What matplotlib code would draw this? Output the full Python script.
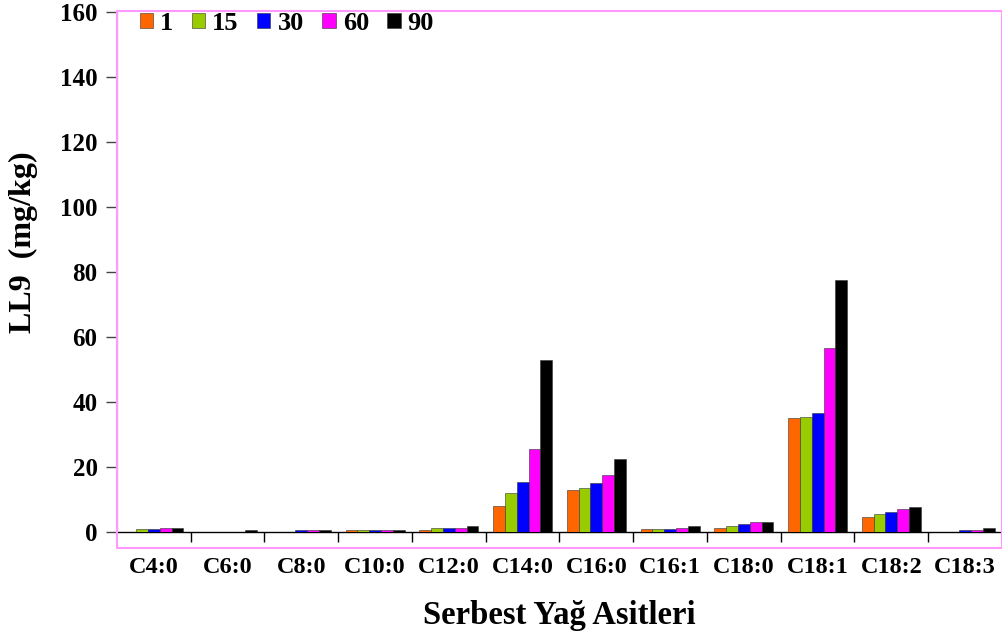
import matplotlib.pyplot as plt
import numpy as np
from matplotlib.patches import Rectangle

plt.rcParams['font.family'] = ['Liberation Serif', 'DejaVu Serif']
plt.rcParams['font.weight'] = 'bold'

#Fatty acid categories
categories = ['C4:0', 'C6:0', 'C8:0', 'C10:0', 'C12:0', 'C14:0',
              'C16:0', 'C16:1', 'C18:0', 'C18:1', 'C18:2', 'C18:3']

#Storage days (series) and values in mg/kg
series_names = ['1', '15', '30', '60', '90']
day1 = [0, 0, 0, 0.7, 0.7, 8, 13, 0.8, 1.3, 35, 4.6, 0]
day15 = [0.8, 0, 0, 0.7, 1.1, 12, 13.5, 0.8, 1.9, 35.5, 5.6, 0]
day30 = [0.8, 0, 0.7, 0.7, 1.1, 15.5, 15, 0.8, 2.5, 36.5, 6.1, 0.7]
day60 = [1.3, 0, 0.7, 0.7, 1.1, 25.5, 17.5, 1.3, 3.1, 56.5, 7.2, 0.7]
day90 = [1.3, 0.7, 0.7, 0.7, 1.8, 53, 22.5, 1.9, 3.1, 77.5, 7.8, 1.3]
colors = ['#FF6600', '#99CC00', '#0000FF', '#FF00FF', '#000000']

yticks = [0, 20, 40, 60, 80, 100, 120, 140, 160]

W, H = 1003, 639
fig = plt.figure(figsize=(W / 100, H / 100), dpi=100)
ax = fig.add_axes([117 / W, (H - 532) / H, (1002 - 117) / W, 520 / H])

#Pink plot area border
fig.patches.append(Rectangle((117 / W, (H - 548) / H), (1002 - 117) / W, 537 / H,
                             transform=fig.transFigure, fill=False,
                             edgecolor='#FF99FF', linewidth=1.5, zorder=0))

x = np.arange(len(categories))
bw = 0.16
all_series = [day1, day15, day30, day60, day90]
for j, vals in enumerate(all_series):
    ax.bar(x + (j - 2) * bw, vals, bw, color=colors[j], edgecolor='#333333',
           linewidth=0.4, label=series_names[j], zorder=3)

ax.set_xlim(-0.5, len(categories) - 0.5)
ax.set_ylim(0, 160)
ax.set_yticks(yticks)
ax.tick_params(axis='y', direction='out', length=8, width=1, labelsize=18, pad=6,
               color='#444444')

#tick marks between groups, labels under centres
ax.set_xticks(np.arange(len(categories) - 1) + 0.5)
ax.set_xticklabels([])
ax.tick_params(axis='x', which='major', direction='out', length=7, width=1)
ax.set_xticks(x, minor=True)
ax.set_xticklabels(categories, minor=True)
ax.tick_params(axis='x', which='minor', length=0, labelsize=17.5, pad=18)

for s in ['top', 'right']:
    ax.spines[s].set_visible(False)
ax.spines['left'].set_color('#330033')
ax.spines['left'].set_bounds(0, 160)
ax.spines['bottom'].set_linewidth(1)

ax.set_ylabel('LL9  (mg/kg)', fontsize=23, fontweight='bold')
ax.yaxis.set_label_coords(-0.089, 0.558)
ax.set_xlabel('Serbest Yağ Asitleri', fontsize=23.5, fontweight='bold', labelpad=16)

ax.legend(loc='upper left', ncol=5, frameon=False, fontsize=19,
          handlelength=0.5, handleheight=0.5, handletextpad=0.27,
          columnspacing=0.7, borderaxespad=0.0, bbox_to_anchor=(0.014, 1.021))

fig.savefig('out.png', dpi=100)
